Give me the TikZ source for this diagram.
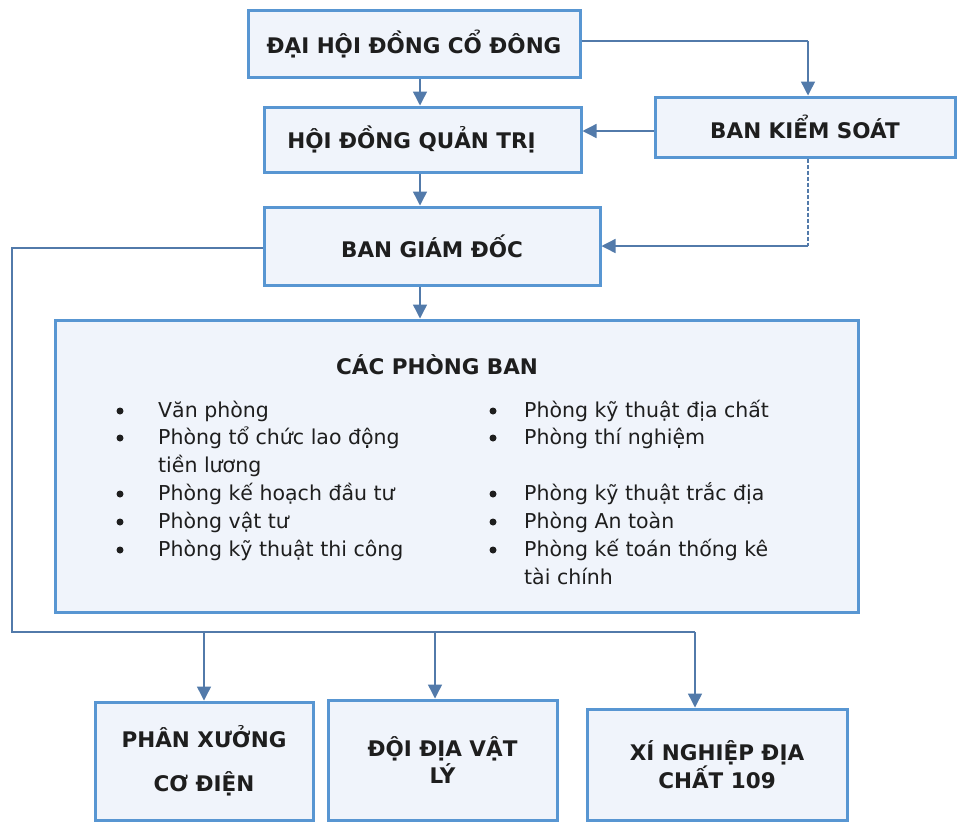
\documentclass[tikz,border=0pt]{standalone}
\usepackage{fontspec}
\setmainfont{DejaVu Sans}
\usetikzlibrary{arrows.meta,calc}
\definecolor{boxline}{RGB}{88,150,210}
\definecolor{boxfill}{RGB}{240,244,251}
\definecolor{conn}{RGB}{82,122,170}
\definecolor{txt}{RGB}{30,30,30}
\tikzset{
  box/.style={draw=boxline, line width=3pt, fill=boxfill, text=txt, font=\fontsize{21.5}{26}\selectfont\bfseries, align=center, inner sep=0pt},
  plain/.style={text=txt, font=\fontsize{21.5}{26}\selectfont\bfseries, inner sep=0pt},
  link/.style={draw=conn, line width=1.4pt},
  arr/.style={link, -{Triangle[length=14pt,width=14pt]}},
  dashline/.style={link, dashed, dash pattern=on 4pt off 2pt},
  item/.style={anchor=base west, inner sep=0pt, text=txt, font=\fontsize{20.5}{25}\selectfont},
  bul/.style={circle, fill=txt, minimum size=7pt, inner sep=0pt}
}
\begin{document}
\begin{tikzpicture}[x=1pt,y=-1pt]
\useasboundingbox[fill=white] (0,0) rectangle (957,823);
% boxes
\node[box, minimum width=332, minimum height=67] (dh) at (414,44) {ĐẠI HỘI ĐỒNG CỔ ĐÔNG};
\node[box, minimum width=317, minimum height=65] (hd) at (422.5,139.5) {HỘI ĐỒNG QUẢN TRỊ\hspace*{22pt}};
\node[box, minimum width=300, minimum height=60] (bks) at (805,127) {BAN KIỂM SOÁT};
\node[box, minimum width=336, minimum height=78] (bgd) at (432,246) {BAN GIÁM ĐỐC};
\node[box, minimum width=803, minimum height=292] (cpb) at (456.5,466) {};
\node[plain] (cpbt) at (437,365) {CÁC PHÒNG BAN};
\node[box, minimum width=218, minimum height=118] (px) at (204,761) {PHÂN XƯỞNG\\[18pt]CƠ ĐIỆN};
\node[box, minimum width=229, minimum height=120] (dv) at (442.5,760) {ĐỘI ĐỊA VẬT\\[1pt]LÝ};
\node[box, minimum width=260, minimum height=111] (xn) at (717,764.5) {XÍ NGHIỆP ĐỊA\\CHẤT 109};
% list left
\node[bul] (b1) at (120,411) {};
\node[bul] (b2) at (120,438) {};
\node[bul] (b3) at (120,494) {};
\node[bul] (b4) at (120,522) {};
\node[bul] (b5) at (120,550) {};
\node[item] (l1) at (158,417) {Văn phòng};
\node[item] (l2) at (158,444) {Phòng tổ chức lao động};
\node[item] (l2b) at (158,472) {tiền lương};
\node[item] (l3) at (158,500) {Phòng kế hoạch đầu tư};
\node[item] (l4) at (158,528) {Phòng vật tư};
\node[item] (l5) at (158,556) {Phòng kỹ thuật thi công};
% list right
\node[bul] (r1b) at (493,411) {};
\node[bul] (r2b) at (493,438) {};
\node[bul] (r3b) at (493,494) {};
\node[bul] (r4b) at (493,522) {};
\node[bul] (r5bul) at (493,550) {};
\node[item] (r1) at (524,417) {Phòng kỹ thuật địa chất};
\node[item] (r2) at (524,444) {Phòng thí nghiệm};
\node[item] (r3) at (524,500) {Phòng kỹ thuật trắc địa};
\node[item] (r4) at (524,528) {Phòng An toàn};
\node[item] (r5) at (524,556) {Phòng kế toán thống kê};
\node[item] (r5b) at (524,584) {tài chính};
% connectors
\coordinate (ax) at (420,0);
\draw[arr] (ax |- dh.south) -- (ax |- hd.north);
\draw[arr] (ax |- hd.south) -- (ax |- bgd.north);
\draw[arr] (ax |- bgd.south) -- (ax |- cpb.north);
\coordinate (bx) at (808,41);
\draw[link] (dh.east |- bx) -- (bx);
\draw[arr] (bx) -- (bx |- bks.north);
\coordinate (cy) at (0,131);
\draw[arr] (bks.west |- cy) -- (hd.east |- cy);
\coordinate (dd) at (808,246);
\draw[dashline] (bx |- bks.south) -- (dd);
\draw[arr] (dd) -- (bgd.east);
\coordinate (c1) at (12,248);
\coordinate (c2) at (12,632);
\coordinate (c3) at (695,632);
\draw[link] (bgd.west |- c1) -- (c1) -- (c2) -- (c3);
\draw[arr] (c3) -- (c3 |- xn.north);
\coordinate (j1) at (204,632);
\coordinate (j2) at (435,632);
\draw[arr] (j1) -- (j1 |- px.north);
\draw[arr] (j2) -- (j2 |- dv.north);
\end{tikzpicture}
\end{document}
